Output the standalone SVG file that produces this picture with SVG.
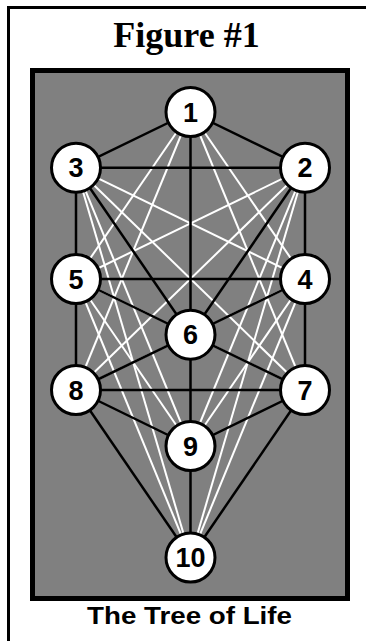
<svg xmlns="http://www.w3.org/2000/svg" width="366" height="641" viewBox="0 0 366 641">
<style>
.frame{fill:none;stroke:#000;stroke-width:3}
.panel{fill:#808080;stroke:#000;stroke-width:5}
.w{stroke:#fff;stroke-width:2;fill:none}
.b{stroke:#000;stroke-width:2.5;fill:none}
.node circle{fill:#fff;stroke:#000;stroke-width:3}
.node text{font-family:"Liberation Sans",Arial,sans-serif;font-weight:bold;font-size:27px;text-anchor:middle;fill:#000}
.title{font-family:"Liberation Serif","Times New Roman",serif;font-weight:bold;font-size:36px;text-anchor:middle}
.caption{font-family:"Liberation Sans",Arial,sans-serif;font-weight:bold;font-size:24px;text-anchor:middle}
</style>
<rect width="366" height="641" fill="#fff"/>
<polyline class="frame" points="8.5,641 8.5,7.5 366,7.5"/>
<text class="title" x="186.5" y="47">Figure #1</text>
<rect class="panel" x="32.5" y="70.5" width="315" height="528"/>
<g id="connectors">
<g id="hidden-paths">
<line class="w" x1="190.5" y1="112" x2="305" y2="279"/>
<line class="w" x1="190.5" y1="112" x2="76" y2="279"/>
<line class="w" x1="190.5" y1="112" x2="305" y2="390"/>
<line class="w" x1="190.5" y1="112" x2="76" y2="390"/>
<line class="w" x1="305" y1="167.7" x2="76" y2="279"/>
<line class="w" x1="305" y1="167.7" x2="76" y2="390"/>
<line class="w" x1="305" y1="167.7" x2="190.5" y2="446"/>
<line class="w" x1="305" y1="167.7" x2="190.5" y2="557.5"/>
<line class="w" x1="76" y1="167.7" x2="305" y2="279"/>
<line class="w" x1="76" y1="167.7" x2="305" y2="390"/>
<line class="w" x1="76" y1="167.7" x2="190.5" y2="446"/>
<line class="w" x1="76" y1="167.7" x2="190.5" y2="557.5"/>
<line class="w" x1="305" y1="279" x2="76" y2="390"/>
<line class="w" x1="305" y1="279" x2="190.5" y2="446"/>
<line class="w" x1="305" y1="279" x2="190.5" y2="557.5"/>
<line class="w" x1="76" y1="279" x2="305" y2="390"/>
<line class="w" x1="76" y1="279" x2="190.5" y2="446"/>
<line class="w" x1="76" y1="279" x2="190.5" y2="557.5"/>
</g>
<g id="paths">
<line class="b" x1="190.5" y1="112" x2="305" y2="167.7"/>
<line class="b" x1="190.5" y1="112" x2="76" y2="167.7"/>
<line class="b" x1="190.5" y1="112" x2="190.5" y2="334.7"/>
<line class="b" x1="76" y1="167.7" x2="305" y2="167.7"/>
<line class="b" x1="305" y1="167.7" x2="305" y2="390"/>
<line class="b" x1="76" y1="167.7" x2="76" y2="390"/>
<line class="b" x1="305" y1="167.7" x2="190.5" y2="334.7"/>
<line class="b" x1="76" y1="167.7" x2="190.5" y2="334.7"/>
<line class="b" x1="76" y1="279" x2="305" y2="279"/>
<line class="b" x1="76" y1="279" x2="190.5" y2="334.7"/>
<line class="b" x1="305" y1="279" x2="190.5" y2="334.7"/>
<line class="b" x1="190.5" y1="334.7" x2="76" y2="390"/>
<line class="b" x1="190.5" y1="334.7" x2="305" y2="390"/>
<line class="b" x1="76" y1="390" x2="305" y2="390"/>
<line class="b" x1="76" y1="390" x2="190.5" y2="446"/>
<line class="b" x1="305" y1="390" x2="190.5" y2="446"/>
<line class="b" x1="190.5" y1="334.7" x2="190.5" y2="557.5"/>
<line class="b" x1="76" y1="390" x2="190.5" y2="557.5"/>
<line class="b" x1="305" y1="390" x2="190.5" y2="557.5"/>
</g>
</g>
<g id="n1" class="node"><circle cx="190.5" cy="112" r="24.5"/><text x="190.5" y="121.5">1</text></g>
<g id="n2" class="node"><circle cx="305" cy="167.7" r="24.5"/><text x="305" y="177.2">2</text></g>
<g id="n3" class="node"><circle cx="76" cy="167.7" r="24.5"/><text x="76" y="177.2">3</text></g>
<g id="n4" class="node"><circle cx="305" cy="279" r="24.5"/><text x="305" y="288.5">4</text></g>
<g id="n5" class="node"><circle cx="76" cy="279" r="24.5"/><text x="76" y="288.5">5</text></g>
<g id="n6" class="node"><circle cx="190.5" cy="334.7" r="24.5"/><text x="190.5" y="344.2">6</text></g>
<g id="n7" class="node"><circle cx="305" cy="390" r="24.5"/><text x="305" y="399.5">7</text></g>
<g id="n8" class="node"><circle cx="76" cy="390" r="24.5"/><text x="76" y="399.5">8</text></g>
<g id="n9" class="node"><circle cx="190.5" cy="446" r="24.5"/><text x="190.5" y="455.5">9</text></g>
<g id="n10" class="node"><circle cx="190.5" cy="557.5" r="24.5"/><text x="190.5" y="567">10</text></g>
<text class="caption" x="189.5" y="623.5" textLength="205" lengthAdjust="spacingAndGlyphs">The Tree of Life</text>
</svg>
